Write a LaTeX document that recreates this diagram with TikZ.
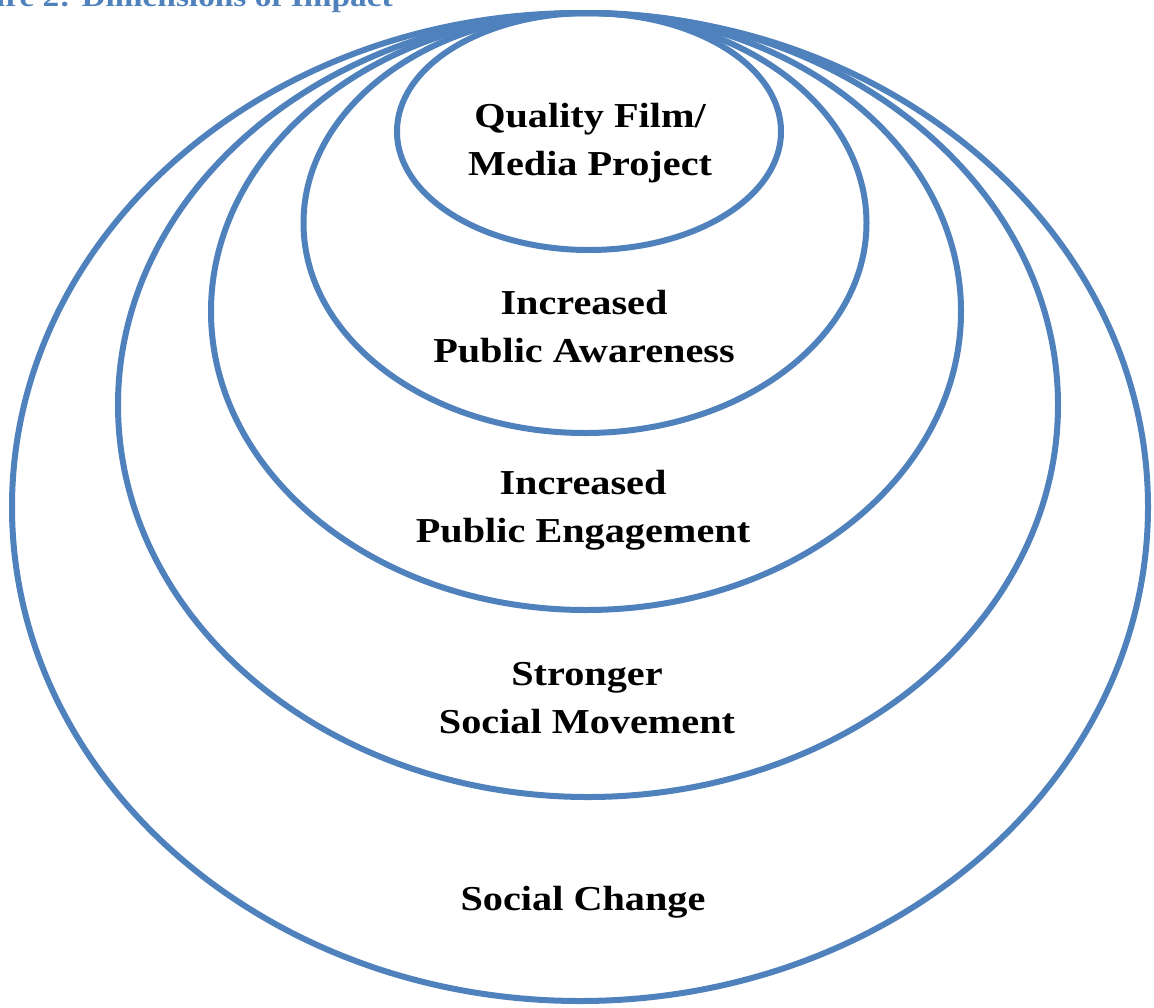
\documentclass[tikz,border=0pt]{standalone}
\usepackage{fontspec}
\setmainfont[FakeStretch=1.15]{Liberation Serif}
\definecolor{ringblue}{RGB}{79,129,189}
\begin{document}
\begin{tikzpicture}[x=1pt,y=-1pt,
  ring/.style={draw=ringblue,line width=6pt},
  lbl/.style={font=\fontsize{35}{48}\selectfont\bfseries,align=center,text=black,inner sep=0pt},
  ttl/.style={font=\fontsize{29}{32}\selectfont\bfseries,text=ringblue,inner sep=0pt}]
\useasboundingbox (0,0) rectangle (1154,1007);
\node[ttl,anchor=base east] (title) at (393,6) {Figure 2: Dimensions of Impact};
\draw[ring] (580,507) ellipse [x radius=568,y radius=494];
\draw[ring] (588,405) ellipse [x radius=470,y radius=392];
\draw[ring] (586,311.5) ellipse [x radius=375,y radius=298.5];
\draw[ring] (585,223) ellipse [x radius=281.5,y radius=210];
\draw[ring] (589,131.5) ellipse [x radius=192,y radius=118.5];
\node[lbl] (q) at (590,143) {Quality Film/\\Media Project};
\node[lbl] (a) at (584,327) {Increased\\Public Awareness};
\node[lbl] (e) at (583,510) {Increased\\Public Engagement};
\node[lbl] (m) at (587,698) {Stronger\\Social Movement};
\node[lbl] (c) at (583,902) {Social Change};
\end{tikzpicture}
\end{document}
